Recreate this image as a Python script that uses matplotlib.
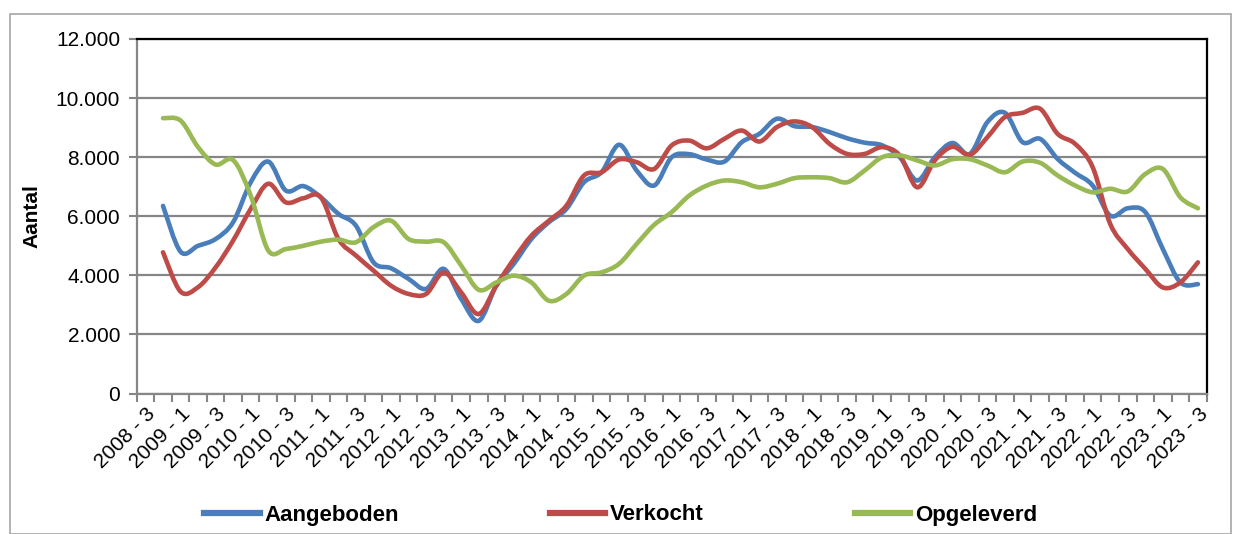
import numpy as np
import matplotlib.pyplot as plt
from matplotlib.path import Path
from matplotlib.patches import PathPatch, Rectangle
from matplotlib.lines import Line2D

plt.rcParams['font.family'] = ['Liberation Sans', 'DejaVu Sans']

# quarters 2008-3 .. 2023-3 (first quarter has no value)
years = [2008] * 2 + [y for y in range(2009, 2023) for _ in range(4)] + [2023] * 3
quarters = [3, 4] + [1, 2, 3, 4] * 14 + [1, 2, 3]
labels = [f"{y} - {q}" for y, q in zip(years, quarters)]

aangeboden = [np.nan,
    6350, 4800, 5000, 5230, 5800, 7150, 7850, 6870, 7020, 6640,
    6080, 5680, 4440, 4240, 3880, 3540, 4220, 3200, 2460, 3650,
    4390, 5230, 5800, 6250, 7150, 7490, 8420, 7550, 7040, 8000,
    8100, 7920, 7850, 8510, 8790, 9300, 9050, 9020, 8850, 8640,
    8490, 8400, 8000, 7210, 8000, 8480, 8110, 9190, 9500, 8510,
    8620, 7940, 7470, 7040, 6020, 6270, 6140, 4890, 3760, 3700]
verkocht = [np.nan,
    4780, 3450, 3600, 4270, 5180, 6250, 7100, 6470, 6610, 6640,
    5230, 4670, 4160, 3650, 3370, 3370, 4100, 3420, 2690, 3650,
    4550, 5340, 5850, 6360, 7380, 7490, 7920, 7830, 7600, 8400,
    8560, 8300, 8620, 8900, 8530, 9020, 9210, 9020, 8450, 8110,
    8110, 8340, 8060, 6980, 7890, 8350, 8080, 8680, 9360, 9500,
    9640, 8790, 8450, 7660, 5740, 4890, 4220, 3590, 3760, 4440]
opgeleverd = [np.nan,
    9320, 9240, 8340, 7750, 7900, 6700, 4840, 4890, 5000, 5140,
    5210, 5120, 5630, 5850, 5230, 5140, 5120, 4330, 3510, 3760,
    3990, 3760, 3140, 3370, 3990, 4100, 4390, 5060, 5710, 6140,
    6700, 7040, 7210, 7150, 6980, 7100, 7290, 7320, 7290, 7150,
    7550, 8000, 8060, 7890, 7720, 7930, 7930, 7720, 7490, 7850,
    7810, 7380, 7040, 6810, 6930, 6840, 7430, 7600, 6640, 6270]

series = [("Aangeboden", aangeboden, "#4A7EBB"),
          ("Verkocht", verkocht, "#BE4B48"),
          ("Opgeleverd", opgeleverd, "#98B954")]


def smooth_path(x, y):
    # Excel-style smoothed line: cubic Bezier segments through the points
    pts = np.column_stack([x, y])
    pts = pts[~np.isnan(pts[:, 1])]
    n = len(pts)
    verts = [pts[0]]
    codes = [Path.MOVETO]
    for k in range(n - 1):
        p0 = pts[max(k - 1, 0)]
        p1 = pts[k]
        p2 = pts[k + 1]
        p3 = pts[min(k + 2, n - 1)]
        c1 = p1 + (p2 - p0) / 6
        c2 = p2 - (p3 - p1) / 6
        verts += [c1, c2, p2]
        codes += [Path.CURVE4] * 3
    return Path(verts, codes)


fig = plt.figure(figsize=(12.41, 5.34), dpi=100)
fig.patches.append(Rectangle((10 / 1241, 0), 1221 / 1241, 520 / 534, transform=fig.transFigure,
                             fill=False, edgecolor='#a6a6a6', lw=1.2))
ax = fig.add_axes([136.7 / 1241, 1 - 393.5 / 534, 1070 / 1241, 354.5 / 534])

x = np.arange(len(labels))
for name, vals, color in series:
    path = smooth_path(x, np.array(vals, dtype=float))
    ax.add_patch(PathPatch(path, fill=False, edgecolor=color, lw=3.3,
                           capstyle='round', joinstyle='round', zorder=3))

ax.set_xlim(-0.5, len(labels) - 0.5)
ax.set_ylim(0, 12000)
yt = np.arange(0, 12001, 2000)
ax.set_yticks(yt)
ax.set_yticklabels([f"{v:,}".replace(",", ".") for v in yt], fontsize=15)
ax.yaxis.grid(True, color='#868686', lw=1.6)
ax.set_axisbelow(True)

ax.set_xticks(x[::2])
ax.set_xticklabels(labels[::2], rotation=45, ha='right', rotation_mode='anchor', fontsize=15)
ax.set_xticks(np.arange(-0.5, len(labels)), minor=True)
ax.tick_params(axis='x', which='major', length=0, pad=8)
ax.tick_params(axis='x', which='minor', length=6, color='#868686', width=1.5)
ax.tick_params(axis='y', length=6, color='#868686', width=1.5, pad=6)

for s in ['left', 'bottom']:
    ax.spines[s].set_color('#868686')
    ax.spines[s].set_linewidth(1.6)
for s in ['top', 'right']:
    ax.spines[s].set_color('black')
    ax.spines[s].set_linewidth(1.6)

ax.set_ylabel("Aantal", fontsize=15, fontweight='bold', labelpad=10)

handles = [Line2D([], [], color=c, lw=4.5) for _, _, c in series]
fig.legend(handles, [n for n, _, _ in series], loc='center', bbox_to_anchor=(0.5, 1 - 515 / 534),
           ncol=3, frameon=False, prop={'weight': 'bold', 'size': 16},
           handlelength=2.5, handletextpad=0.2, columnspacing=6.8)

fig.savefig("out.png", dpi=100)
